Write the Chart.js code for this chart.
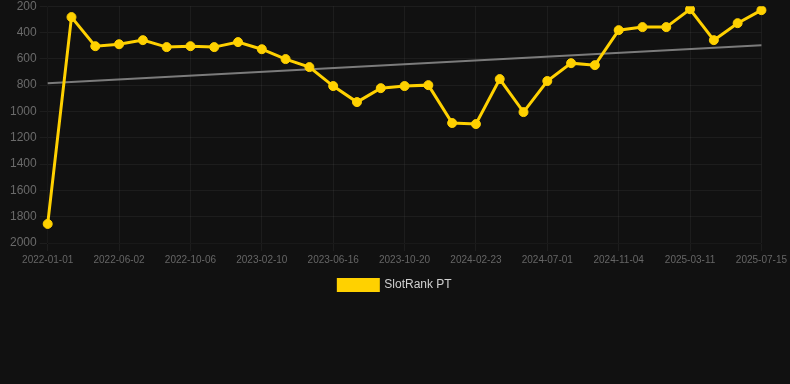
<!DOCTYPE html>
<html>
<head>
    <title>SlotRank PT</title>
    <script src="https://cdn.jsdelivr.net/npm/chart.js"></script>
    <style>
body{
    margin: 0;
    background-color: #111111;
    overflow: hidden;
}
.chart-box {
    width: 790px;
    height: 305px;
    margin-top: -4px;
}
    </style>
</head>
<body>
    <div class="chart-box">
        <canvas id="rankChart"></canvas>
    </div>

    <script>
        // dates along the x axis (every third one is shown)
        const dates = [
            '2022-01-01', '2022-02-20', '2022-04-11', '2022-06-02', '2022-07-14', '2022-08-25',
            '2022-10-06', '2022-11-17', '2022-12-30', '2023-02-10', '2023-03-24', '2023-05-05',
            '2023-06-16', '2023-07-28', '2023-09-08', '2023-10-20', '2023-12-01', '2024-01-12',
            '2024-02-23', '2024-04-05', '2024-05-18', '2024-07-01', '2024-08-12', '2024-09-23',
            '2024-11-04', '2024-12-16', '2025-01-27', '2025-03-11', '2025-04-22', '2025-06-03',
            '2025-07-15'
        ];

        // rank values
        const ranks = [
            1855, 283, 504, 489, 458, 511, 504, 511, 473, 527, 602, 663,
            807, 929, 823, 807, 800, 1088, 1096, 754, 1005, 769, 633, 648,
            382, 359, 359, 223, 458, 329, 230
        ];

        // trend line end points
        const trendStart = 785;
        const trendEnd = 496;

        const trend = dates.map((_, i) => i === 0 ? trendStart : (i === dates.length - 1 ? trendEnd : null));

        Chart.defaults.font.family = 'Arial, "Liberation Sans", sans-serif';

        const gridColor = ctx => ctx.index % 3 === 0 ? 'rgba(255, 255, 255, 0.05)' : 'transparent';

        new Chart(document.getElementById('rankChart'), {
            type: 'line',
            data: {
                labels: dates,
                datasets: [{
                    label: 'SlotRank PT',
                    data: ranks,
                    borderColor: '#ffd100',
                    backgroundColor: '#ffd100',
                    borderWidth: 3,
                    pointRadius: 4.5,
                    pointBorderWidth: 1,
                    pointHoverRadius: 5,
                    tension: 0,
                    fill: false
                }, {
                    label: 'trend',
                    data: trend,
                    borderColor: 'rgba(150, 150, 150, 0.8)',
                    borderWidth: 2,
                    pointRadius: 0,
                    spanGaps: true,
                    fill: false
                }]
            },
            options: {
                responsive: true,
                maintainAspectRatio: false,
                animation: false,
                plugins: {
                    legend: {
                        position: 'bottom',
                        labels: {
                            color: '#d0d0d0',
                            boxWidth: 40,
                            boxHeight: 11,
                            font: {size: 12},
                            filter: item => item.datasetIndex === 0
                        }
                    },
                    tooltip: {enabled: false}
                },
                scales: {
                    x: {
                        grid: {color: gridColor},
                        ticks: {
                            color: '#666666',
                            font: {size: 10},
                            autoSkip: false,
                            maxRotation: 0,
                            callback: function(value, index) {
                                return index % 3 === 0 ? this.getLabelForValue(value) : '';
                            }
                        }
                    },
                    y: {
                        reverse: true,
                        min: 200,
                        max: 2000,
                        afterFit: scale => { scale.width += 7; },
                        grid: {color: 'rgba(255, 255, 255, 0.05)'},
                        ticks: {
                            color: '#6a6a6a',
                            font: {size: 12},
                            stepSize: 200,
                            callback: value => String(value)
                        }
                    }
                }
            }
        });
    </script>
</body>
</html>
